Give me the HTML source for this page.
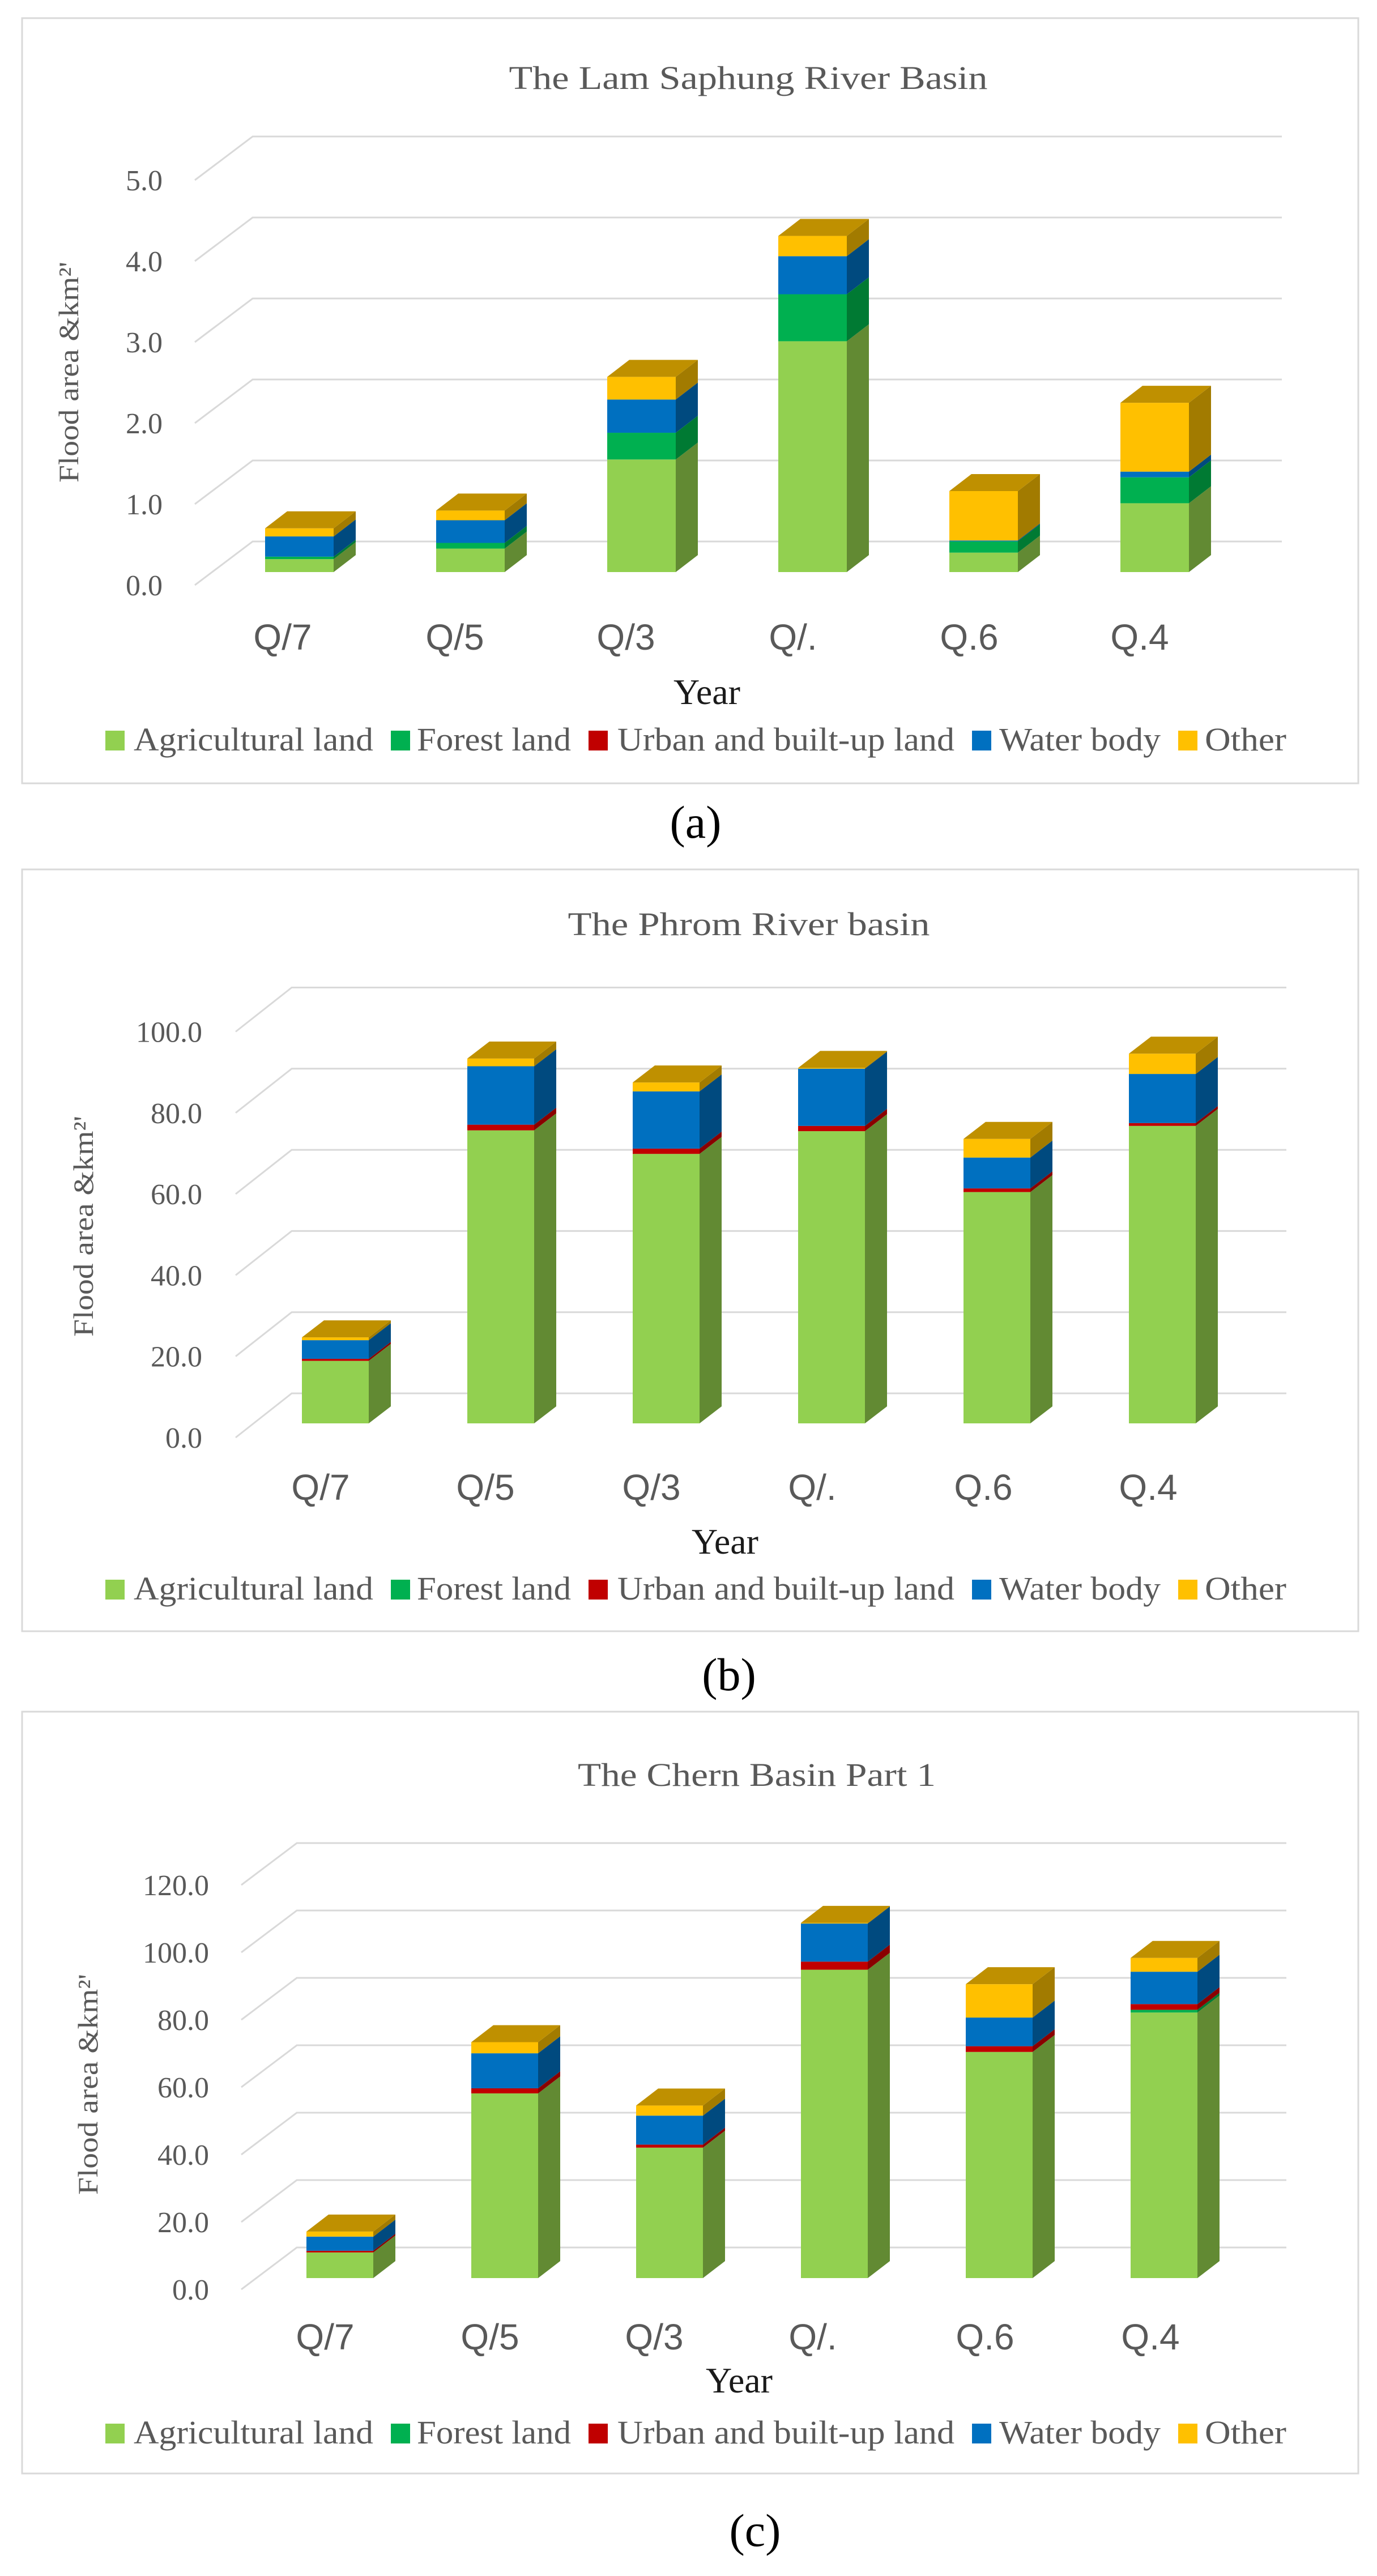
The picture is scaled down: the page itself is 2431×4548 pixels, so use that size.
<!DOCTYPE html>
<html><head><meta charset="utf-8"><style>
html,body{margin:0;padding:0;background:#fff;}
svg{display:block;}
</style></head><body>
<svg id="fig" xmlns="http://www.w3.org/2000/svg" width="2431" height="4548" viewBox="0 0 2431 4548"></svg>
<script>
// ---- data ----
const categories = ["Q/7","Q/5","Q/3","Q/.","Q.6","Q.4"];
const seriesNames = ["Agricultural land","Forest land","Urban and built-up land","Water body","Other"];
// Chart (a) The Lam Saphung River Basin
const aAgri   = [0.16,0.29,1.39,2.85,0.24,0.85];
const aForest = [0.03,0.07,0.33,0.58,0.14,0.32];
const aUrban  = [0.00,0.00,0.00,0.00,0.00,0.00];
const aWater  = [0.25,0.28,0.41,0.47,0.01,0.07];
const aOther  = [0.10,0.12,0.28,0.25,0.61,0.85];
const aTicks  = ["0.0","1.0","2.0","3.0","4.0","5.0"];
// Chart (b) The Phrom River basin
const bAgri   = [15.4,72.2,66.4,72.0,57.0,73.3];
const bForest = [0.0,0.0,0.0,0.0,0.0,0.0];
const bUrban  = [0.5,1.4,1.3,1.3,0.9,0.7];
const bWater  = [4.6,14.4,14.1,14.1,7.6,12.1];
const bOther  = [0.7,1.9,2.2,0.2,4.6,5.0];
const bTicks  = ["0.0","20.0","40.0","60.0","80.0","100.0"];
// Chart (c) The Chern Basin Part 1
const cAgri   = [7.6,54.8,38.7,91.5,67.1,78.8];
const cForest = [0.0,0.0,0.0,0.0,0.0,0.8];
const cUrban  = [0.5,1.5,0.9,2.4,1.7,1.7];
const cWater  = [4.2,10.4,8.6,11.3,8.5,9.6];
const cOther  = [1.5,3.3,3.0,0.2,9.9,4.1];
const cTicks  = ["0.0","20.0","40.0","60.0","80.0","100.0","120.0"];

const front = ["#92D050","#00B050","#C00000","#0070C0","#FFC000"];
const side  = ["#628a33","#007a33","#8a0000","#004a7f","#a27b00"];
const topC  = ["#6e9c3a","#008a3a","#9a0000","#00548f","#bf9000"];
const NS="http://www.w3.org/2000/svg";
const svg=document.getElementById('fig');
function mk(tag,attrs,parent){const e=document.createElementNS(NS,tag);for(const k in attrs)e.setAttribute(k,attrs[k]);(parent||svg).appendChild(e);return e;}

const legendSq=[186,690,1039,1716,2080];
const legendTx=[236,736,1090,1764,2127];
const legendLen=[423,272,595,285,144];

function chart(cfg){
  const g=mk('g',{});
  
  
  const panel=mk('rect',{x:39,y:cfg.top,width:2359,height:cfg.bottom-cfg.top,fill:'#fff',stroke:'#d9d9d9','stroke-width':3},g);
  
  
  const t=mk('text',{x:cfg.titleX,y:cfg.titleY+20,'text-anchor':'middle','font-family':'"Liberation Serif",serif','font-size':58,fill:'#595959',textLength:cfg.titleLen,lengthAdjust:'spacingAndGlyphs'},g);
  t.textContent=cfg.title;
  
  
  const n=cfg.ticks.length;
  const yScaleBack=v=>cfg.back0-v/cfg.step*cfg.px;
  // gridlines
  for(let i=0;i<n;i++){
    const v=i*cfg.step;const y=yScaleBack(v);
    const gl=mk('polyline',{points:`${cfg.backL+cfg.dx},${y+cfg.dy} ${cfg.backL},${y} ${cfg.backR},${y}`,fill:'none',stroke:'#d9d9d9','stroke-width':3},g);
    
    
    const tl=mk('text',{x:cfg.labelR,y:y+cfg.dy+18,'text-anchor':'end','font-family':'"Liberation Serif",serif','font-size':52,fill:'#595959'},g);
    tl.textContent=cfg.ticks[i];
    
    
  }
  const yBar=v=>cfg.barBottom-v*cfg.px/cfg.step;
  const sdx=39,sdy=-30,w=cfg.barW;
  for(let i=0;i<categories.length;i++){
    const x=cfg.bar0+i*cfg.barSp;
    let cum=0,topIdx=-1;
    for(let s=0;s<5;s++){if(cfg.series[s][i]>0)topIdx=s;}
    for(let s=0;s<5;s++){
      const val=cfg.series[s][i];if(val<=0)continue;
      const y1=yBar(cum),y2=yBar(cum+val);cum+=val;
      const fr=mk('rect',{x:x,y:y2,width:w,height:y1-y2,fill:front[s]},g);
      
      
      const sd=mk('polygon',{points:`${x+w},${y1} ${x+w+sdx},${y1+sdy} ${x+w+sdx},${y2+sdy} ${x+w},${y2}`,fill:side[s]},g);
      
      
      if(s===topIdx){
        const tp=mk('polygon',{points:`${x},${y2} ${x+w},${y2} ${x+w+sdx},${y2+sdy} ${x+sdx},${y2+sdy}`,fill:topC[s]},g);
        
        
      }
    }
    const cl=mk('text',{x:cfg.catX[i],y:cfg.catY+23,'text-anchor':'middle','font-family':'"Liberation Sans",sans-serif','font-size':64,fill:'#595959'},g);
    cl.textContent=categories[i];
    
    
  }
  const yr=mk('text',{x:cfg.yearX,y:cfg.yearY+22,'text-anchor':'middle','font-family':'"Liberation Serif",serif','font-size':64,fill:'#1a1a1a'},g);
  yr.textContent='Year';
  
  
  const yt=mk('text',{x:0,y:0,'text-anchor':'middle','font-family':'"Liberation Serif",serif','font-size':50,fill:'#595959',textLength:390,lengthAdjust:'spacingAndGlyphs',transform:`translate(${cfg.ytX+17},${cfg.ytY}) rotate(-90)`},g);
  yt.textContent="Flood area &km²'";
  
  
  for(let s=0;s<5;s++){
    const sq=mk('rect',{x:legendSq[s],y:cfg.legY-17,width:34,height:35,fill:front[s]},g);
    
    
    const lt=mk('text',{x:legendTx[s],y:cfg.legY+18,'font-family':'"Liberation Serif",serif','font-size':58,fill:'#595959',textLength:legendLen[s],lengthAdjust:'spacingAndGlyphs'},g);
    lt.textContent=seriesNames[s];
    
    
  }
  const cap=mk('text',{x:cfg.capX,y:cfg.capY+27,'text-anchor':'middle','font-family':'"Liberation Serif",serif','font-size':82,fill:'#000'},g);
  cap.textContent=cfg.cap;
  
  
}

chart({name:'chart-a',title:'The Lam Saphung River Basin',titleX:1321,titleY:137,titleLen:845,top:32,bottom:1383,
  ticks:aTicks,step:1,px:143,back0:956,backL:446,backR:2263,dx:-102,dy:77,labelR:287,
  bar0:468,barSp:302,barW:121,barBottom:1010,series:[aAgri,aForest,aUrban,aWater,aOther],
  catX:[499,803,1105,1400,1711,2012],catY:1124,yearX:1248,yearY:1221,ytX:121,ytY:657,legY:1307,cap:'(a)',capX:1228,capY:1452});
chart({name:'chart-b',title:'The Phrom River basin',titleX:1322,titleY:1631,titleLen:639,top:1535,bottom:2880,
  ticks:bTicks,step:20,px:143.3,back0:2460,backL:515,backR:2271,dx:-99,dy:78,labelR:357,
  bar0:533,barSp:292,barW:118,barBottom:2513,series:[bAgri,bForest,bUrban,bWater,bOther],
  catX:[566,857,1150,1434,1736,2027],catY:2625,yearX:1280,yearY:2721,ytX:147,ytY:2165,legY:2806,cap:'(b)',capX:1287,capY:2957});
chart({name:'chart-c',title:'The Chern Basin Part 1',titleX:1336,titleY:3133,titleLen:632,top:3022,bottom:4367,
  ticks:cTicks,step:20,px:119,back0:3968,backL:524,backR:2271,dx:-98,dy:74,labelR:369,
  bar0:541,barSp:291,barW:118,barBottom:4022,series:[cAgri,cForest,cUrban,cWater,cOther],
  catX:[574,865,1155,1435,1739,2031],catY:4125,yearX:1305,yearY:4202,ytX:155,ytY:3680,legY:4296,cap:'(c)',capX:1333,capY:4468});
</script>
</body></html>
